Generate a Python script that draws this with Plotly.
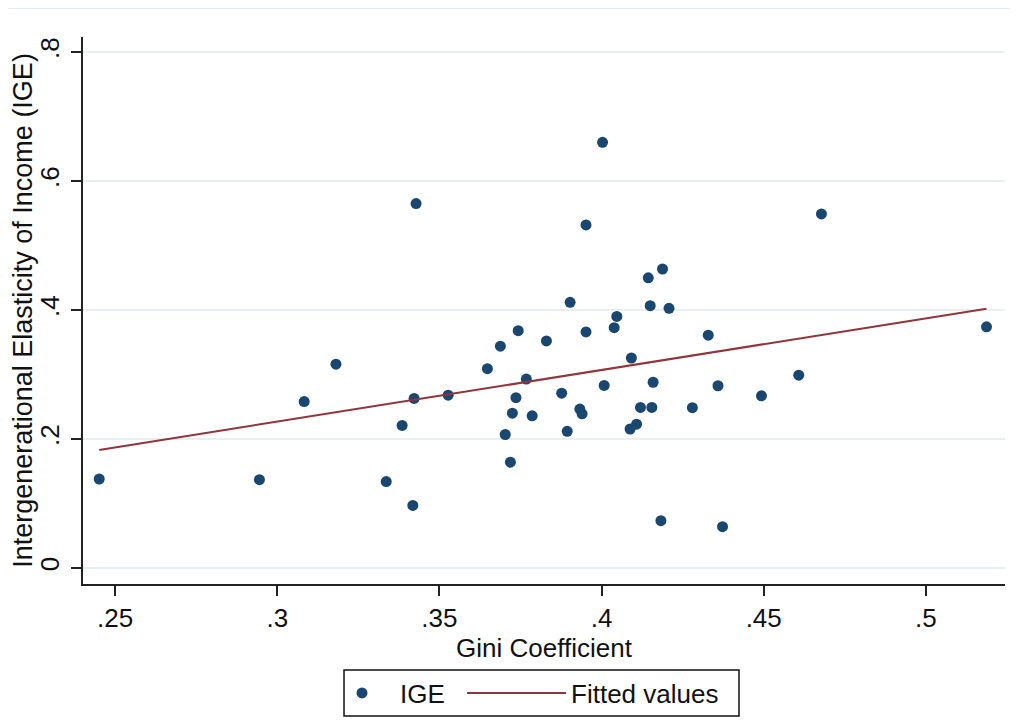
import numpy as np
import plotly.graph_objects as go

# Data
gini = [0.2451, 0.2945, 0.3083, 0.3181, 0.3428, 0.3422, 0.3385, 0.3336, 0.3418, 0.3527,
        0.3648, 0.3688, 0.3743, 0.3736, 0.3725, 0.3703, 0.3719, 0.3768, 0.3786, 0.3830,
        0.3877, 0.3894, 0.3933, 0.3940, 0.3952, 0.3952, 0.3903, 0.4003, 0.4008, 0.4039,
        0.4047, 0.4092, 0.4088, 0.4108, 0.4120, 0.4155, 0.4159, 0.4144, 0.4150, 0.4188,
        0.4208, 0.4183, 0.4280, 0.4329, 0.4359, 0.4373, 0.4493, 0.4608, 0.4678, 0.5187]
ige = [0.138, 0.137, 0.258, 0.316, 0.565, 0.263, 0.221, 0.134, 0.097, 0.268,
       0.309, 0.344, 0.368, 0.264, 0.240, 0.207, 0.164, 0.293, 0.236, 0.352,
       0.271, 0.212, 0.2465, 0.239, 0.366, 0.532, 0.412, 0.660, 0.283, 0.3726,
       0.390, 0.3256, 0.2155, 0.223, 0.249, 0.249, 0.288, 0.450, 0.4067, 0.4636,
       0.4026, 0.0733, 0.2485, 0.361, 0.2826, 0.064, 0.267, 0.299, 0.549, 0.374]

x_tickvals = [0.25, 0.30, 0.35, 0.40, 0.45, 0.50]
x_ticktext = [".25", ".3", ".35", ".4", ".45", ".5"]
y_tickvals = [0, 0.2, 0.4, 0.6, 0.8]
y_ticktext = ["0", ".2", ".4", ".6", ".8"]

# Fitted values from OLS of IGE on Gini
slope, intercept = np.polyfit(gini, ige, 1)
fit_x = np.array([min(gini), max(gini)])
fit_y = intercept + slope * fit_x

FONT = "Liberation Sans, Arial, sans-serif"
NAVY = "#1a476f"
MAROON = "#90353b"
GRID = "#e8eff2"
TXT = "#111111"
FS = 26

fig = go.Figure()
fig.add_trace(go.Scatter(
    x=gini, y=ige, mode="markers", name="IGE", legend="legend",
    marker=dict(color=NAVY, size=11, line=dict(width=0)),
))
fig.add_trace(go.Scatter(
    x=fit_x, y=fit_y, mode="lines", name="Fitted values", legend="legend2",
    line=dict(color=MAROON, width=2),
))

# page body has an 8px default margin, so the figure is 8px smaller
fig.update_layout(
    width=1010, height=712,
    margin=dict(l=75, r=13, t=29, b=136, autoexpand=False),
    paper_bgcolor="white", plot_bgcolor="white",
    font=dict(family=FONT, size=FS, color=TXT),
    showlegend=True,
    legend=dict(
        orientation="h", x=0.2614, xanchor="left", y=-0.1993, yanchor="middle",
        borderwidth=0, bgcolor="rgba(0,0,0,0)",
        font=dict(family=FONT, size=FS, color=TXT), itemwidth=66,
    ),
    legend2=dict(
        orientation="h", x=0.4111, xanchor="left", y=-0.1993, yanchor="middle",
        borderwidth=0, bgcolor="rgba(0,0,0,0)",
        font=dict(family=FONT, size=FS, color=TXT), itemwidth=99,
    ),
    xaxis=dict(
        range=[0.2401, 0.5244], automargin=False,
        tickmode="array", tickvals=x_tickvals, ticktext=x_ticktext,
        ticks="outside", ticklen=10, tickwidth=2, tickcolor="#222222",
        showline=True, linecolor="#222222", linewidth=2,
        showgrid=False, zeroline=False,
        ticklabelstandoff=0, tickfont=dict(size=FS),
        title=dict(text="Gini Coefficient", standoff=0,
                   font=dict(family=FONT, size=FS, color=TXT)),
    ),
    yaxis=dict(
        range=[-0.0248, 0.8233], automargin=False,
        tickmode="array", tickvals=y_tickvals, ticktext=y_ticktext,
        tickangle=-90,
        ticks="outside", ticklen=10, tickwidth=2, tickcolor="#222222",
        showline=True, linecolor="#222222", linewidth=2,
        showgrid=True, gridcolor=GRID, gridwidth=1.5, zeroline=False,
        ticklabelstandoff=2, tickfont=dict(size=FS),
        title=dict(text="Intergenerational Elasticity of Income (IGE)", standoff=0,
                   font=dict(family=FONT, size=27, color=TXT)),
    ),
)

# legend frame
fig.add_shape(type="rect", xref="paper", yref="paper",
              x0=0.2831, x1=0.7115, y0=-0.2413, y1=-0.1572,
              line=dict(color=TXT, width=1.5), fillcolor="rgba(0,0,0,0)")

# faint frame line at the top of the image
fig.add_shape(type="line", xref="paper", yref="paper",
              x0=-0.0813, x1=1.02, y0=1.053, y1=1.053,
              line=dict(color="#e6edf1", width=2))

fig.write_html("out.html")
